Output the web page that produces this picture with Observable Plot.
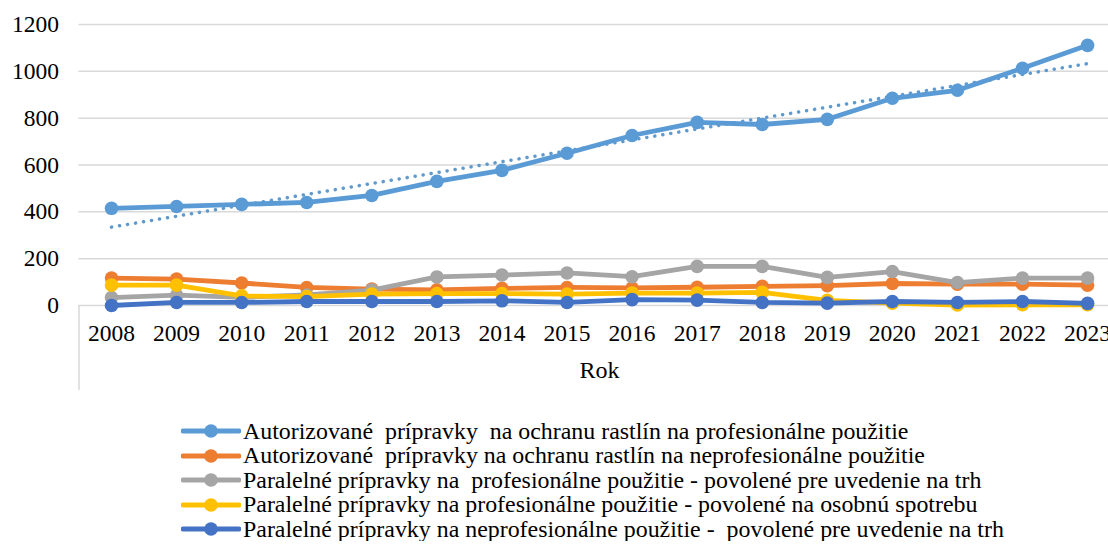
<!DOCTYPE html>
<html><head><meta charset="utf-8">
<script src="https://cdn.jsdelivr.net/npm/d3@7"></script>
<script src="https://cdn.jsdelivr.net/npm/@observablehq/plot@0.6"></script>
<style>
html,body{margin:0;padding:0;background:#fff;overflow:hidden;}
#chart svg{display:block;overflow:hidden;}
#legend{font-family:"Liberation Serif",serif;font-size:23.9px;color:#000;margin-top:18.75px;}
.row{display:flex;align-items:center;height:24.5px;line-height:24.5px;padding-left:181px;white-space:pre;}
.row svg{display:block;flex:none;margin-right:2px;}
</style></head><body>
<div id="chart"></div>
<div id="legend"></div>
<script>
const years = [2008,2009,2010,2011,2012,2013,2014,2015,2016,2017,2018,2019,2020,2021,2022,2023];
const seriesNames = [
  "Autorizované  prípravky  na ochranu rastlín na profesionálne použitie",
  "Autorizované  prípravky na ochranu rastlín na neprofesionálne použitie",
  "Paralelné prípravky na  profesionálne použitie - povolené pre uvedenie na trh",
  "Paralelné prípravky na profesionálne použitie - povolené na osobnú spotrebu",
  "Paralelné prípravky na neprofesionálne použitie -  povolené pre uvedenie na trh"
];
const authProf =      [415,423,432,440,470,530,577,650,726,782,773,795,885,919,1013,1111];
const authNonprof =   [117,113,96,77,70,67,73,77,75,78,82,85,94,91,91,87];
const parProfMarket = [34,44,35,45,66,122,130,139,123,167,167,120,145,98,117,117];
const parProfPersonal=[87,87,41,38,49,51,51,49,53,53,56,22,10,2,3,3];
const parNonprofMarket=[0,13,13,17,17,17,20,13,25,23,13,10,17,13,17,9];
const seriesValues = [authProf, authNonprof, parProfMarket, parProfPersonal, parNonprofMarket];
const colors = ["#5B9BD5","#ED7D31","#A5A5A5","#FFC000","#4472C4"];
const yTicks = [0,200,400,600,800,1000,1200];
const axisTitle = "Rok";

const W = 1108, H = 400, mL = 78.5, mT = 24, mB = 95, mR = -11.6;
const tables = seriesValues.map((vals, k) => years.map((yr, i) => ({year: yr, value: vals[i], series: seriesNames[k]})));

const marks = [
  Plot.gridY({ticks: yTicks, stroke: "#d9d9d9", strokeOpacity: 1, strokeWidth: 1.5}),
  Plot.ruleX([years[0] - 0.5], {stroke: "#d9d9d9", strokeWidth: 1.5, insetTop: H - mT - mB, insetBottom: -85}),
  Plot.axisY({ticks: yTicks, tickFormat: d => String(d), tickSize: 0, tickPadding: 20, label: null, fill: "#000"}),
  Plot.axisX({ticks: years, tickFormat: d => String(d), tickSize: 0, tickPadding: 19, label: null, fill: "#000"}),
  Plot.text([axisTitle], {frameAnchor: "bottom", dy: 72, text: d => d, fill: "#000", fontSize: 24})
];
tables.forEach((t, k) => {
  marks.push(Plot.line(t, {x: "year", y: "value", stroke: colors[k], strokeWidth: 4.8, strokeLinecap: "round", strokeLinejoin: "round"}));
  marks.push(Plot.dot(t, {x: "year", y: "value", fill: colors[k], r: 6.8, stroke: "none"}));
  if (k === 0) {
    marks.push(Plot.linearRegressionY(t, {x: "year", y: "value", stroke: colors[0], strokeWidth: 3.5, strokeDasharray: "0.1 8", strokeLinecap: "round", ci: 0}));
  }
});

const chart = Plot.plot({
  width: W, height: H,
  marginLeft: mL, marginRight: mR, marginTop: mT, marginBottom: mB,
  x: {domain: [years[0] - 0.5, years[years.length - 1] + 0.5]},
  y: {domain: [0, 1200]},
  style: {fontFamily: "Liberation Serif, serif", fontSize: "23.5px", color: "#000", background: "#fff", overflow: "hidden"},
  marks
});
document.getElementById("chart").append(chart);

const legend = d3.select("#legend");
seriesNames.forEach((name, k) => {
  const row = legend.append("div").attr("class", "row");
  const s = row.append("svg").attr("width", 60).attr("height", 24);
  s.append("line").attr("x1", 2).attr("x2", 58).attr("y1", 12).attr("y2", 12)
    .attr("stroke", colors[k]).attr("stroke-width", 4.8).attr("stroke-linecap", "round");
  s.append("circle").attr("cx", 30).attr("cy", 12).attr("r", 6.8).attr("fill", colors[k]);
  row.append("span").text(name);
});
</script></body></html>
